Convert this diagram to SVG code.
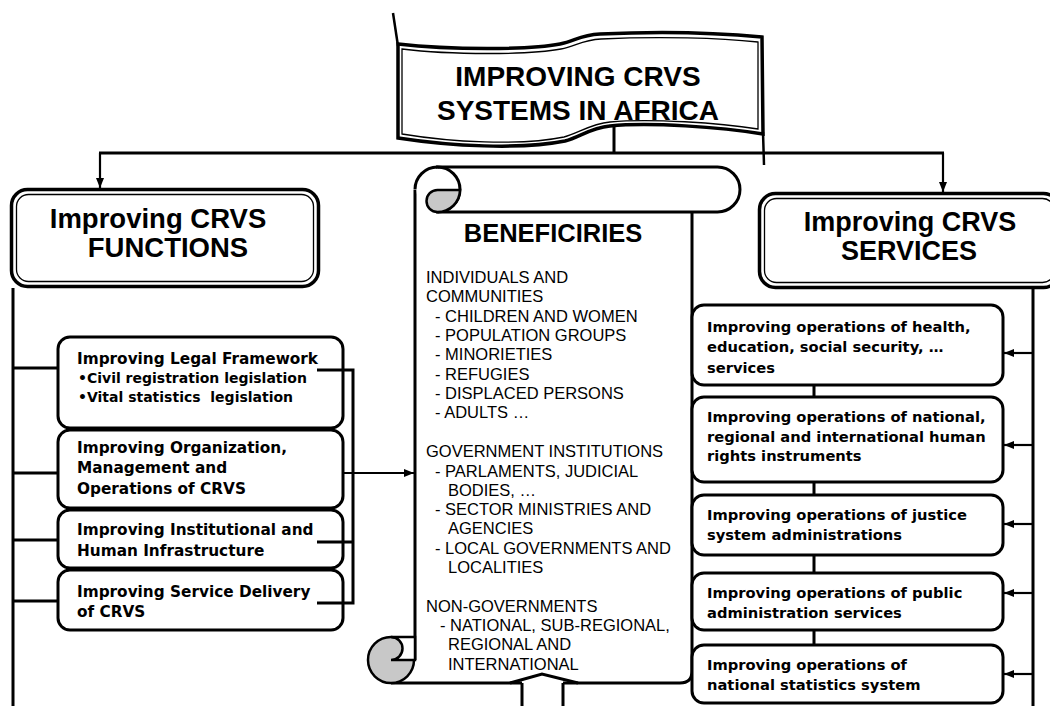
<svg xmlns="http://www.w3.org/2000/svg" width="1050" height="706" viewBox="0 0 1050 706">
<defs>
<marker id="ah" markerUnits="userSpaceOnUse" viewBox="0 0 10 8" refX="10" refY="4" markerWidth="10" markerHeight="8" orient="auto">
<path d="M0,0 L10,4 L0,8 Z" fill="#000"/>
</marker>
<style>
.ln{stroke:#000;stroke-width:3;fill:none}
.ar{stroke:#000;stroke-width:2.2;fill:none;marker-end:url(#ah)}
.box{fill:#fff;stroke:#000;stroke-width:3}
.o{fill:#fff;stroke:#000;stroke-width:3.5}
.i{fill:none;stroke:#000;stroke-width:1.3}
.hdr{font-family:"Liberation Sans",Arial,sans-serif;font-weight:bold;text-anchor:middle;fill:#000}
.fb{font-family:"DejaVu Sans",Verdana,sans-serif;font-weight:bold;font-size:15.3px;fill:#000}
.fbs{font-family:"DejaVu Sans",Verdana,sans-serif;font-weight:bold;font-size:14px;fill:#000}
.sb{font-family:"DejaVu Sans",Verdana,sans-serif;font-weight:bold;font-size:14.7px;fill:#000}
.lst{font-family:"Liberation Sans",Arial,sans-serif;font-size:16.5px;fill:#000}
.gray{fill:#c8c8c8;stroke:#000;stroke-width:2.5}
</style>
</defs>
<rect width="1050" height="706" fill="#fff"/>

<g id="banner">
<path d="M393,13 L398,46" stroke="#000" stroke-width="2.5"/>
<path d="M763,132 L764,165" stroke="#000" stroke-width="2.5"/>
<path class="o" d="M398,44 C450,50 530,50 560,44 C575,41 580,35 600,34 C660,31 720,33 762,37 L763,134 C720,127 650,122 610,126 C590,128 580,137 565,141 C520,150 450,146 398,138 Z"/>
<path class="i" d="M402,49 C450,55 530,55 561,49 C576,46 582,40 601,39 C660,36 720,38 758,42 L758,129 C720,123 650,118 610,122 C590,124 579,133 564,137 C520,146 450,142 402,134 Z"/>
<text class="hdr" x="578" y="86" font-size="28">IMPROVING CRVS</text>
<text class="hdr" x="578" y="120" font-size="28">SYSTEMS IN AFRICA</text>
</g>

<g id="functions-header">
<rect class="o" x="11.5" y="189.5" width="307" height="97" rx="16"/>
<rect class="i" x="16.5" y="194.5" width="297" height="87" rx="12"/>
<text class="hdr" x="158" y="228" font-size="27.5">Improving CRVS</text>
<text class="hdr" x="168" y="257" font-size="27.5">FUNCTIONS</text>
</g>

<g id="services-header">
<rect class="o" x="759.5" y="193.5" width="300" height="94" rx="16"/>
<rect class="i" x="764.5" y="198.5" width="290" height="84" rx="12"/>
<text class="hdr" x="910" y="231" font-size="27">Improving CRVS</text>
<text class="hdr" x="909" y="260" font-size="27">SERVICES</text>
</g>

<g id="beneficiaries">
<path d="M415,190 L415,683 L680,683 Q692,683 692,671 L692,212 Z" fill="#fff"/>
<path class="ln" d="M415,190 L415,660"/>
<path class="ln" d="M391,683 L522,683 M563,683 L680,683 Q692,683 692,671 L692,212"/>
<path class="ln" d="M510,683 L542,674 L578,683 M522,683 L522,706 M563,683 L563,706"/>
<path d="M437.5,167 L717.5,167 A22.5,22.5 0 0 1 717.5,212 L437.5,212 Z" fill="#fff" stroke="#000" stroke-width="3"/>
<circle cx="437.5" cy="189.5" r="21" fill="#fff"/>
<path class="ln" d="M415,189.5 A22.5,22.5 0 1 1 437.5,212"/>
<path class="gray" d="M437.5,190 L460,190 A22.5,22.5 0 0 1 437.5,212 A11,11 0 0 1 437.5,190 Z"/>
<circle class="gray" cx="391" cy="660" r="23"/>
<path d="M391,637 L415,637 L415,660 L391,660 A11.5,11.5 0 0 0 391,637 Z" fill="#fff" stroke="#000" stroke-width="2.5"/>
<text class="hdr" x="553" y="242" font-size="25.5">BENEFICIRIES</text>
<text class="lst" x="426" y="283">INDIVIDUALS AND</text>
<text class="lst" x="426" y="302">COMMUNITIES</text>
<text class="lst" x="435" y="322">- CHILDREN AND WOMEN</text>
<text class="lst" x="435" y="341">- POPULATION GROUPS</text>
<text class="lst" x="435" y="360">- MINORIETIES</text>
<text class="lst" x="435" y="380">- REFUGIES</text>
<text class="lst" x="435" y="399">- DISPLACED PERSONS</text>
<text class="lst" x="435" y="418">- ADULTS …</text>
<text class="lst" x="426" y="457">GOVERNMENT INSTITUTIONS</text>
<text class="lst" x="435" y="477">- PARLAMENTS, JUDICIAL</text>
<text class="lst" x="448" y="496">BODIES, …</text>
<text class="lst" x="435" y="515">- SECTOR MINISTRIES AND</text>
<text class="lst" x="448" y="534">AGENCIES</text>
<text class="lst" x="435" y="554">- LOCAL GOVERNMENTS AND</text>
<text class="lst" x="448" y="573">LOCALITIES</text>
<text class="lst" x="426" y="612">NON-GOVERNMENTS</text>
<text class="lst" x="440" y="631">- NATIONAL, SUB-REGIONAL,</text>
<text class="lst" x="448" y="650">REGIONAL AND</text>
<text class="lst" x="448" y="670">INTERNATIONAL</text>
</g>

<g id="legal-framework">
<rect class="box" x="58" y="337" width="285" height="91" rx="12"/>
<text class="fb" x="77" y="364">Improving Legal Framework</text>
<text class="fbs" x="78" y="383">•Civil registration legislation</text>
<text class="fbs" x="78" y="402" xml:space="preserve">•Vital statistics  legislation</text>
</g>
<g id="organization">
<rect class="box" x="58" y="430" width="285" height="78" rx="12"/>
<text class="fb" x="77" y="453">Improving Organization,</text>
<text class="fb" x="77" y="473">Management and</text>
<text class="fb" x="77" y="494">Operations of CRVS</text>
</g>
<g id="infrastructure">
<rect class="box" x="58" y="510" width="285" height="58" rx="12"/>
<text class="fb" x="77" y="535">Improving Institutional and</text>
<text class="fb" x="77" y="556">Human Infrastructure</text>
</g>
<g id="service-delivery">
<rect class="box" x="58" y="570" width="285" height="60" rx="12"/>
<text class="fb" x="77" y="597">Improving Service Delivery</text>
<text class="fb" x="77" y="617">of CRVS</text>
</g>

<g id="ops-health">
<rect class="box" x="692" y="305" width="311" height="80" rx="12"/>
<text class="sb" x="707" y="332">Improving operations of health,</text>
<text class="sb" x="707" y="352">education, social security, …</text>
<text class="sb" x="707" y="373">services</text>
</g>
<g id="ops-human-rights">
<rect class="box" x="692" y="397" width="311" height="85" rx="12"/>
<text class="sb" x="707" y="422">Improving operations of national,</text>
<text class="sb" x="707" y="442">regional and international human</text>
<text class="sb" x="707" y="461">rights instruments</text>
</g>
<g id="ops-justice">
<rect class="box" x="692" y="495" width="311" height="60" rx="12"/>
<text class="sb" x="707" y="520">Improving operations of justice</text>
<text class="sb" x="707" y="540">system administrations</text>
</g>
<g id="ops-public-admin">
<rect class="box" x="692" y="573" width="311" height="57" rx="12"/>
<text class="sb" x="707" y="598">Improving operations of public</text>
<text class="sb" x="707" y="618">administration services</text>
</g>
<g id="ops-statistics">
<rect class="box" x="692" y="645" width="311" height="58" rx="12"/>
<text class="sb" x="707" y="670">Improving operations of</text>
<text class="sb" x="707" y="690">national statistics system</text>
</g>

<g id="connectors">
<path class="ln" d="M614,127 L614,153 M99,153 L944,153"/>
<path class="ar" d="M100,153 L100,188"/>
<path class="ar" d="M943,153 L943,192"/>
<path class="ln" d="M13,288 L13,706 M13,368 L58,368 M13,473 L58,473 M13,540 L58,540 M13,601 L58,601"/>
<path class="ln" d="M317,370 L353,370 L353,603 L317,603 M317,542 L353,542"/>
<path class="ar" d="M343,473 L414,473"/>
<path class="ln" d="M1033,288 L1033,706"/>
<path class="ln" d="M814,385 L814,397 M814,482 L814,495 M814,555 L814,573 M814,630 L814,645"/>
<path class="ar" d="M1033,353 L1004,353"/>
<path class="ar" d="M1033,445 L1004,445"/>
<path class="ar" d="M1033,524 L1004,524"/>
<path class="ar" d="M1033,593 L1004,593"/>
<path class="ar" d="M1033,674 L1004,674"/>
</g>
</svg>
